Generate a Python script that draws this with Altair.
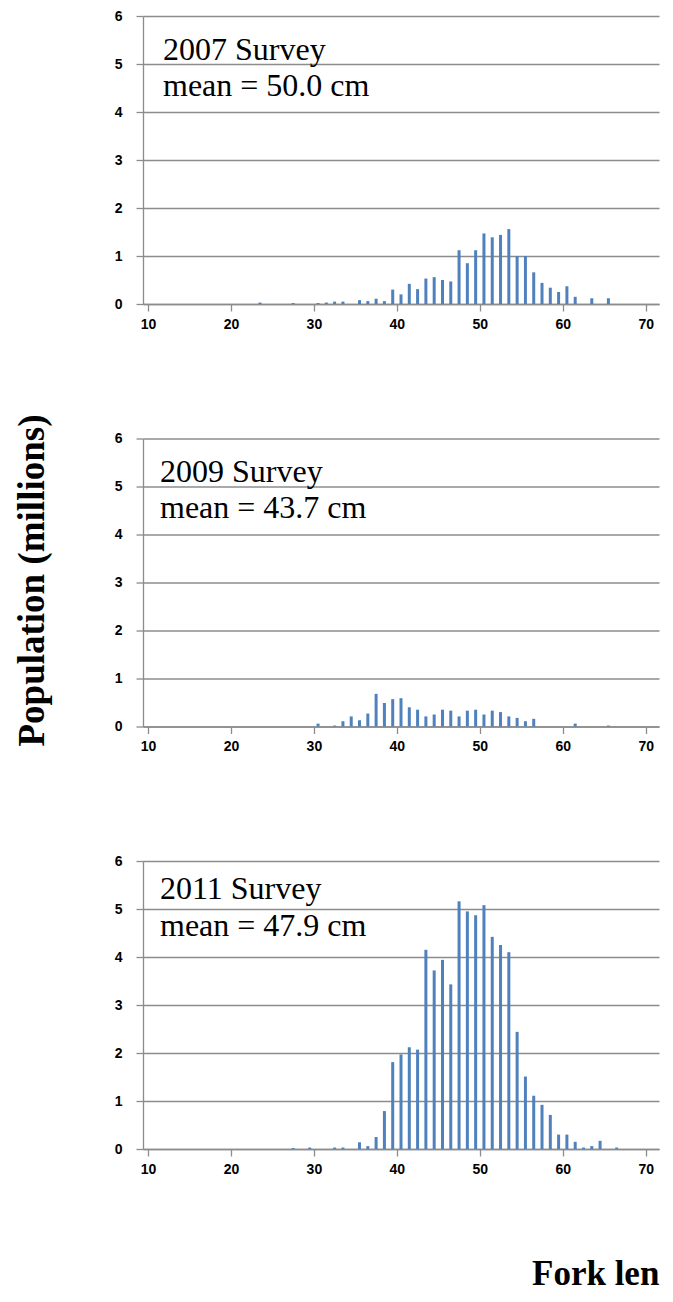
import altair as alt
import pandas as pd

# Fork-length bin midpoints (cm) and population (millions)
len_2007 = [23.5, 27.5, 30.5, 31.5, 32.5, 33.5, 35.5, 36.5, 37.5, 38.5, 39.5, 40.5,
            41.5, 42.5, 43.5, 44.5, 45.5, 46.5, 47.5, 48.5, 49.5, 50.5, 51.5, 52.5,
            53.5, 54.5, 55.5, 56.5, 57.5, 58.5, 59.5, 60.5, 61.5, 63.5, 65.5]
pop_2007 = [0.03, 0.02, 0.02, 0.03, 0.05, 0.05, 0.08, 0.06, 0.11, 0.06, 0.30, 0.20,
            0.42, 0.31, 0.53, 0.56, 0.50, 0.47, 1.12, 0.85, 1.12, 1.47, 1.39, 1.44,
            1.56, 1.00, 1.00, 0.66, 0.44, 0.34, 0.25, 0.37, 0.15, 0.12, 0.12]

len_2009 = [30.5, 32.5, 33.5, 34.5, 35.5, 36.5, 37.5, 38.5, 39.5, 40.5, 41.5, 42.5,
            43.5, 44.5, 45.5, 46.5, 47.5, 48.5, 49.5, 50.5, 51.5, 52.5, 53.5, 54.5,
            55.5, 56.5, 61.5, 65.5]
pop_2009 = [0.06, 0.02, 0.11, 0.21, 0.13, 0.27, 0.68, 0.49, 0.57, 0.59, 0.40, 0.35,
            0.21, 0.25, 0.35, 0.33, 0.21, 0.33, 0.35, 0.25, 0.33, 0.30, 0.21, 0.18,
            0.11, 0.16, 0.06, 0.02]

len_2011 = [27.5, 29.5, 32.5, 33.5, 35.5, 36.5, 37.5, 38.5, 39.5, 40.5, 41.5, 42.5,
            43.5, 44.5, 45.5, 46.5, 47.5, 48.5, 49.5, 50.5, 51.5, 52.5, 53.5, 54.5,
            55.5, 56.5, 57.5, 58.5, 59.5, 60.5, 61.5, 62.5, 63.5, 64.5, 66.5]
pop_2011 = [0.02, 0.03, 0.03, 0.03, 0.14, 0.06, 0.25, 0.79, 1.81, 1.97, 2.12, 2.07,
            4.15, 3.72, 3.94, 3.43, 5.16, 4.95, 4.87, 5.08, 4.42, 4.25, 4.10, 2.44,
            1.51, 1.11, 0.92, 0.71, 0.30, 0.30, 0.15, 0.03, 0.06, 0.17, 0.03]

surveys = ["2007 Survey", "2009 Survey", "2011 Survey"]
means = ["mean = 50.0 cm", "mean = 43.7 cm", "mean = 47.9 cm"]
x_ticks = [10, 20, 30, 40, 50, 60, 70]
y_ticks = [0, 1, 2, 3, 4, 5, 6]
y_title = "Population (millions)"
x_title = "Fork len"

BLUE = "#4F81BD"
GRID = "#8c8c8c"
W, H = 516, 288


def panel(lengths, pops, survey, mean, tx, ty1, ty2):
    df = pd.DataFrame({"length": lengths, "population": pops})
    bars = alt.Chart(df).mark_bar(color=BLUE, size=3).encode(
        x=alt.X("length:Q",
                scale=alt.Scale(domain=[10, 71], nice=False, zero=False),
                axis=alt.Axis(values=x_ticks, title=None, grid=False,
                              domainColor=GRID, domainWidth=1.3,
                              tickColor=GRID, tickWidth=1.3, tickSize=7,
                              labelFont="Liberation Sans", labelFontWeight="bold",
                              labelFontSize=14, labelColor="black", labelPadding=6)),
        y=alt.Y("population:Q",
                scale=alt.Scale(domain=[0, 6], nice=False),
                axis=alt.Axis(values=y_ticks, title=None, grid=True,
                              gridColor=GRID, gridWidth=1.3,
                              domainColor=GRID, domainWidth=1.3,
                              tickColor=GRID, tickWidth=1.3, tickSize=7,
                              labelFont="Liberation Sans", labelFontWeight="bold",
                              labelFontSize=14, labelColor="black", labelPadding=14)),
    )
    lab = pd.DataFrame({"s": [survey], "m": [mean]})
    t1 = alt.Chart(lab).mark_text(font="Liberation Serif", fontSize=32, align="left",
                                  baseline="alphabetic", color="black").encode(
        x=alt.value(tx), y=alt.value(ty1), text="s:N")
    t2 = alt.Chart(lab).mark_text(font="Liberation Serif", fontSize=32, align="left",
                                  baseline="alphabetic", color="black").encode(
        x=alt.value(tx), y=alt.value(ty2), text="m:N")
    return [bars, t1, t2]


p1 = alt.layer(*panel(len_2007, pop_2007, surveys[0], means[0], 20, 44, 80)).properties(width=W, height=H)

ytitle = alt.Chart(pd.DataFrame({"t": [y_title]})).mark_text(
    font="Liberation Serif", fontWeight="bold", fontSize=37, angle=270,
    align="center", baseline="middle", color="black").encode(
    x=alt.value(-110), y=alt.value(142), text="t:N")
p2 = alt.layer(*panel(len_2009, pop_2009, surveys[1], means[1], 17, 43, 79), ytitle).properties(width=W, height=H)

xtitle = alt.Chart(pd.DataFrame({"t": [x_title]})).mark_text(
    font="Liberation Serif", fontWeight="bold", fontSize=35,
    align="left", baseline="alphabetic", color="black").encode(
    x=alt.value(389), y=alt.value(424), text="t:N")
p3 = alt.layer(*panel(len_2011, pop_2011, surveys[2], means[2], 17, 38, 75), xtitle).properties(width=W, height=H)

chart = alt.vconcat(p1, p2, p3, spacing=134.5, bounds="flush").configure_view(
    stroke="transparent").properties(
    autosize=alt.AutoSizeParams(type="none"),
    padding={"left": 135, "top": 8, "right": 6, "bottom": 1274})

chart.save("out.html", embed_options={"renderer": "svg", "actions": False})
